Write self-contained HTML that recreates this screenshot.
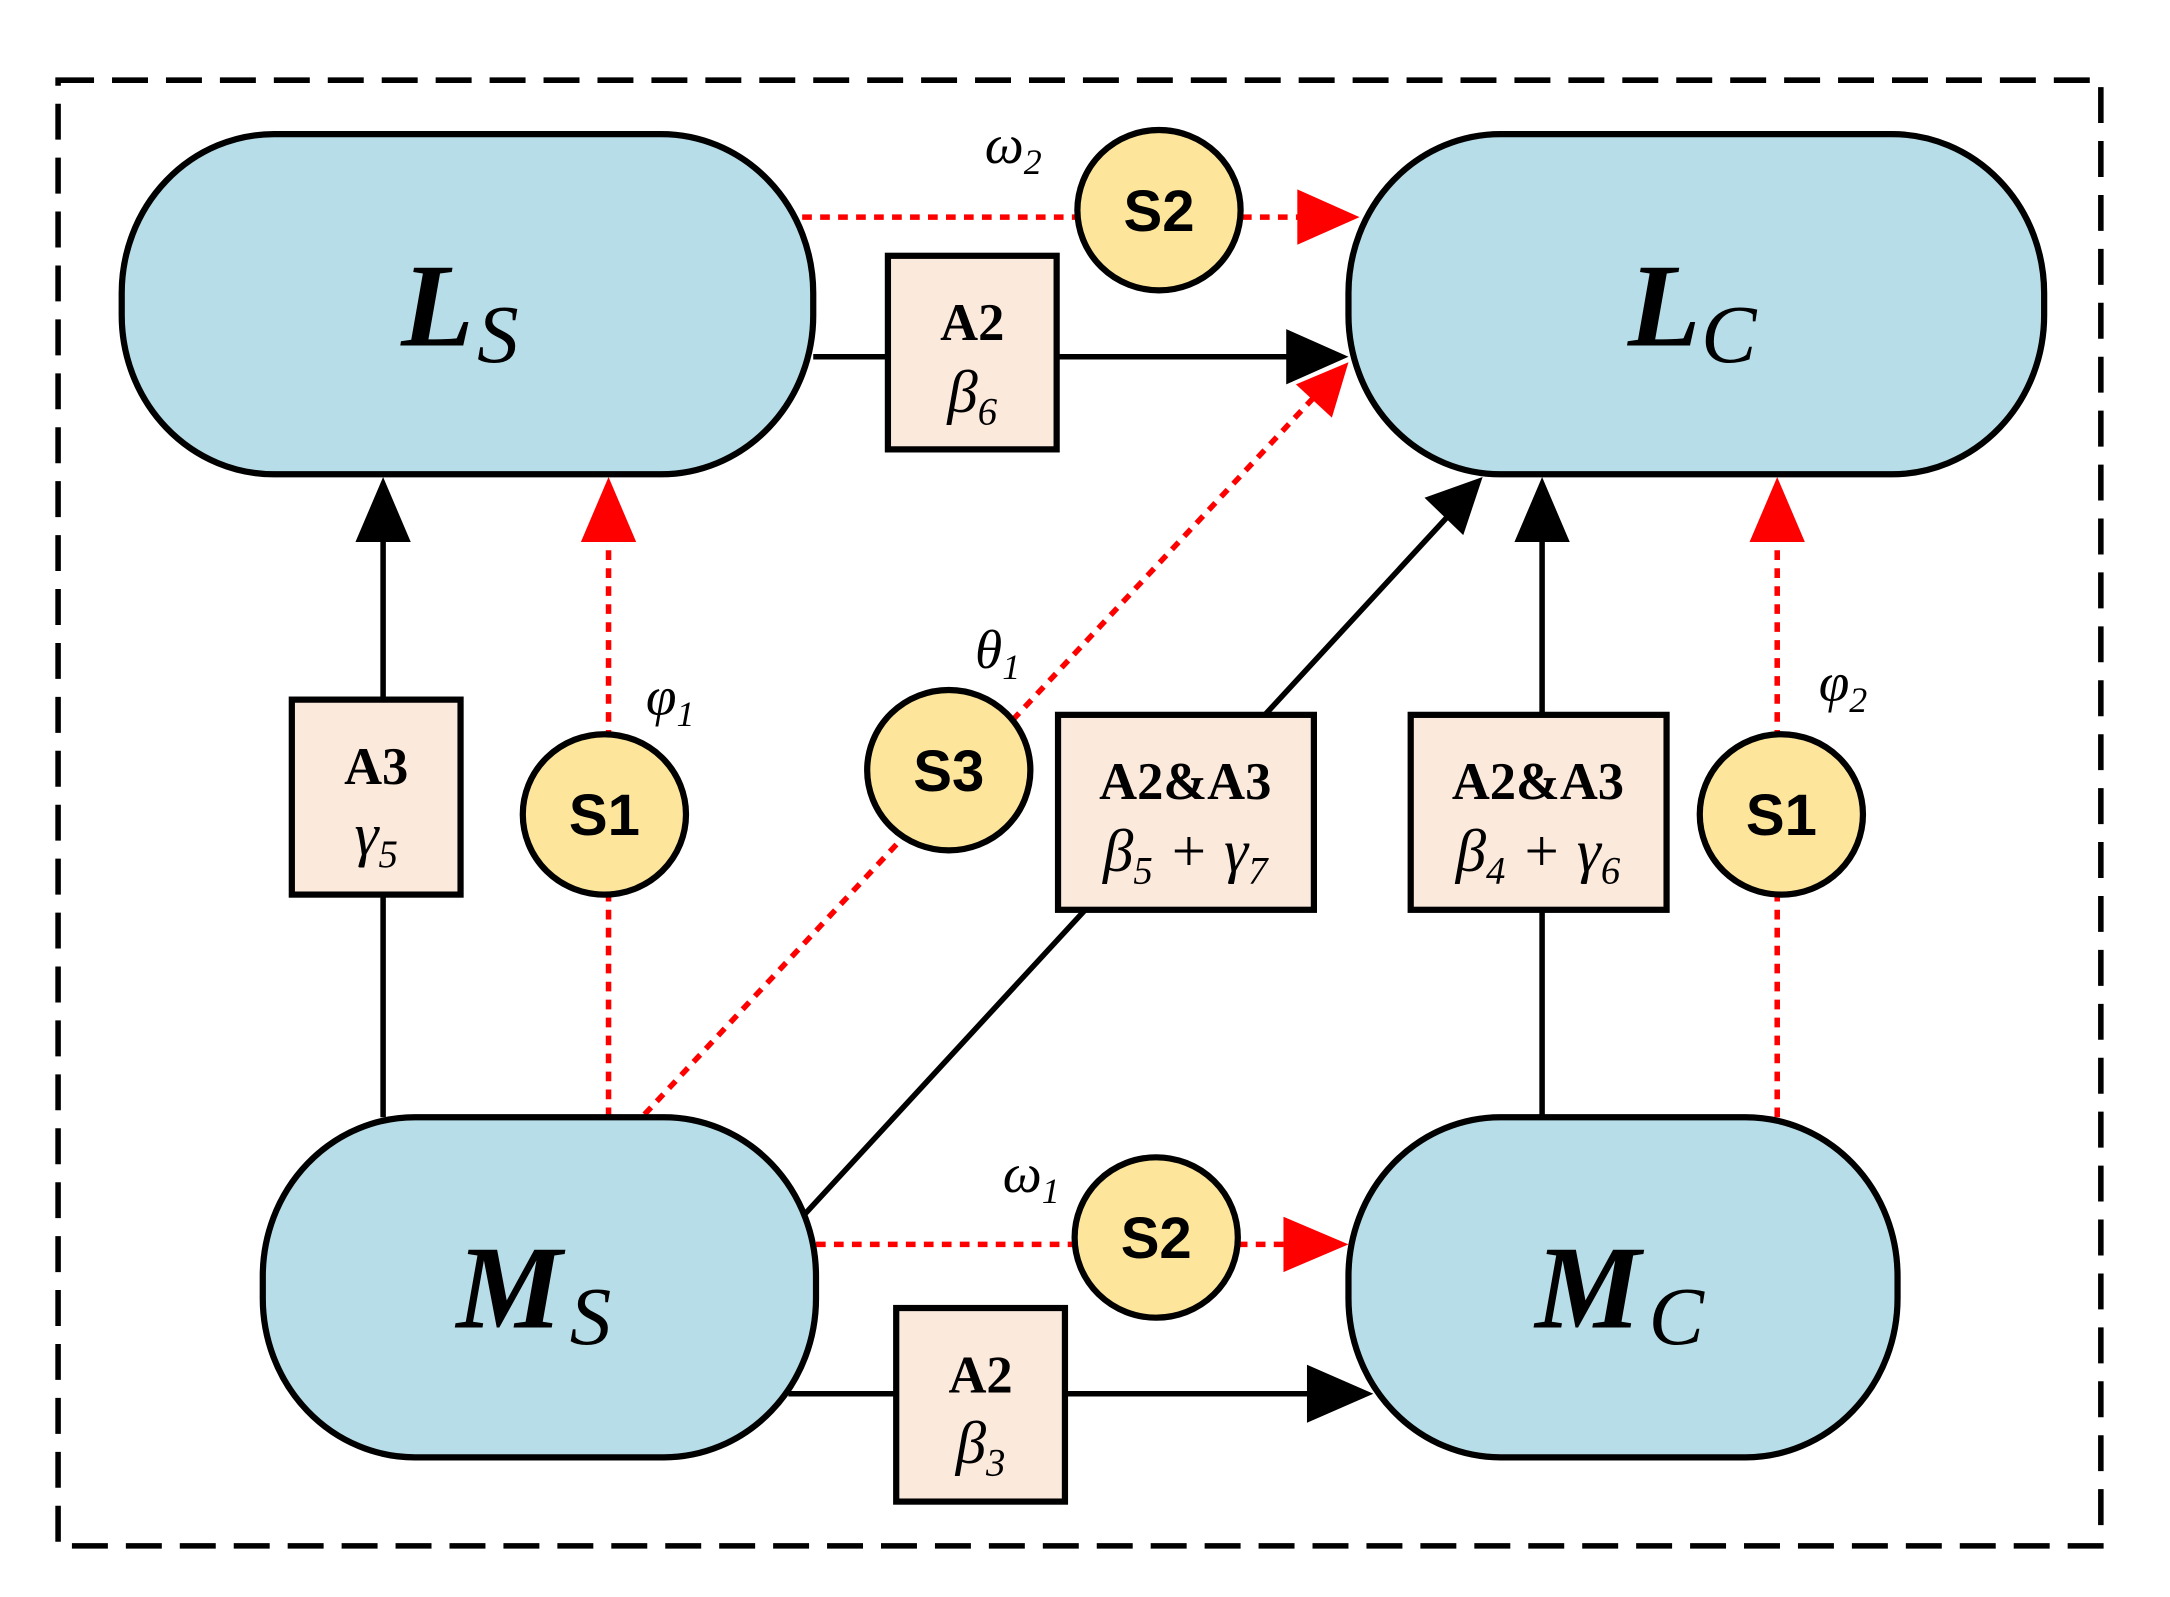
<!DOCTYPE html>
<html><head><meta charset="utf-8"><style>html,body{margin:0;padding:0;background:#fff}svg{display:block}</style></head>
<body>
<svg width="2170" height="1597" viewBox="0 0 1569 1155" preserveAspectRatio="none" xmlns="http://www.w3.org/2000/svg">
<style>
.n{fill:#b7dde8;stroke:#000;stroke-width:4.5}
.b{fill:#fbe9dc;stroke:#000;stroke-width:4.5}
.c{fill:#fde59b;stroke:#000;stroke-width:4.5}
.k{stroke:#000;stroke-width:4;fill:none}
.r{stroke:#f00;stroke-width:4;fill:none;stroke-dasharray:7 6}
.big{font-family:"Liberation Serif",serif;font-style:italic;font-weight:bold;font-size:86px}
.sub{font-family:"Liberation Serif",serif;font-style:italic;font-size:60px}
.bt{font-family:"Liberation Serif",serif;font-weight:bold;font-size:38px;text-anchor:middle}
.gk{font-family:"Liberation Serif",serif;font-style:italic;font-size:44px;text-anchor:middle}
.st{font-family:"Liberation Sans",sans-serif;font-weight:bold;font-size:42px;text-anchor:middle}
.lb{font-family:"Liberation Serif",serif;font-style:italic}
</style>
<rect x="42" y="58" width="1477" height="1060" fill="none" stroke="#000" stroke-width="4" stroke-dasharray="26 13"/>

<line class="k" x1="588" y1="258" x2="935" y2="258"/>
<path d="M930,238 L975,258 L930,278 Z" fill="#000"/>
<line class="r" x1="580" y1="157" x2="780" y2="157"/>
<line class="r" x1="898" y1="157" x2="945" y2="157"/>
<path d="M938,137 L983,157 L938,177 Z" fill="#f00"/>

<line class="k" x1="277" y1="808" x2="277" y2="385"/>
<path d="M257,392 L277,345 L297,392 Z" fill="#000"/>
<line class="r" x1="440" y1="808" x2="440" y2="385"/>
<path d="M420,392 L440,345 L460,392 Z" fill="#f00"/>

<line class="r" x1="466" y1="806" x2="955" y2="282"/>
<path d="M937,278 L975,262 L963,302 Z" fill="#f00"/>

<line class="k" x1="582" y1="878" x2="1050" y2="370"/>
<path d="M1030,360 L1072,345 L1058,387 Z" fill="#000"/>

<line class="k" x1="1115" y1="808" x2="1115" y2="385"/>
<path d="M1095,392 L1115,345 L1135,392 Z" fill="#000"/>
<line class="r" x1="1285" y1="808" x2="1285" y2="385"/>
<path d="M1265,392 L1285,345 L1305,392 Z" fill="#f00"/>

<line class="r" x1="590" y1="900" x2="780" y2="900"/>
<line class="r" x1="895" y1="900" x2="935" y2="900"/>
<path d="M928,880 L975,900 L928,920 Z" fill="#f00"/>

<line class="k" x1="570" y1="1008" x2="950" y2="1008"/>
<path d="M945,987 L993,1008 L945,1029 Z" fill="#000"/>

<rect class="n" x="88" y="97" width="500" height="246" rx="110" ry="115"/>
<rect class="n" x="975" y="97" width="503" height="246" rx="110" ry="115"/>
<rect class="n" x="190" y="808" width="400" height="246" rx="110" ry="115"/>
<rect class="n" x="975" y="808" width="397" height="246" rx="110" ry="115"/>
<text x="290" y="250" class="big">L</text><text x="345" y="262" class="sub">S</text>
<text x="1177" y="250" class="big">L</text><text x="1230" y="262" class="sub">C</text>
<text x="330" y="960" class="big">M</text><text x="412" y="972" class="sub">S</text>
<text x="1110" y="960" class="big">M</text><text x="1192" y="972" class="sub">C</text>

<rect class="b" x="642" y="185" width="122" height="140"/>
<text x="703" y="246" class="bt">A2</text><text x="703" y="298" class="gk">β<tspan style="font-size:28px" dy="9">6</tspan></text>
<rect class="b" x="211" y="506" width="122" height="141"/>
<text x="272" y="567" class="bt">A3</text><text x="272" y="618" class="gk">γ<tspan style="font-size:28px" dy="9">5</tspan></text>
<rect class="b" x="765" y="517" width="185" height="141"/>
<text x="857" y="578" class="bt">A2&amp;A3</text>
<text x="857" y="630" class="gk">β<tspan style="font-size:28px" dy="9">5</tspan><tspan dy="-9"> + γ</tspan><tspan style="font-size:28px" dy="9">7</tspan></text>
<rect class="b" x="1020" y="517" width="185" height="141"/>
<text x="1112" y="578" class="bt">A2&amp;A3</text>
<text x="1112" y="630" class="gk">β<tspan style="font-size:28px" dy="9">4</tspan><tspan dy="-9"> + γ</tspan><tspan style="font-size:28px" dy="9">6</tspan></text>
<rect class="b" x="648" y="946" width="122" height="140"/>
<text x="709" y="1007" class="bt">A2</text><text x="709" y="1058" class="gk">β<tspan style="font-size:28px" dy="9">3</tspan></text>

<ellipse class="c" cx="838" cy="152" rx="59" ry="58"/><text x="838" y="167" class="st">S2</text>
<ellipse class="c" cx="437" cy="589" rx="59" ry="58"/><text x="437" y="604" class="st">S1</text>
<ellipse class="c" cx="686" cy="557" rx="59" ry="58"/><text x="686" y="572" class="st">S3</text>
<ellipse class="c" cx="1288" cy="589" rx="59" ry="58"/><text x="1288" y="604" class="st">S1</text>
<ellipse class="c" cx="836" cy="895" rx="59" ry="58"/><text x="836" y="910" class="st">S2</text>

<text x="712" y="118" class="lb" style="font-size:40px">ω<tspan style="font-size:26px" dy="8">2</tspan></text>
<text x="467" y="517" class="lb" style="font-size:40px">φ<tspan style="font-size:26px" dy="8">1</tspan></text>
<text x="705" y="483" class="lb" style="font-size:40px">θ<tspan style="font-size:26px" dy="8">1</tspan></text>
<text x="1315" y="507" class="lb" style="font-size:40px">φ<tspan style="font-size:26px" dy="8">2</tspan></text>
<text x="725" y="862" class="lb" style="font-size:40px">ω<tspan style="font-size:26px" dy="8">1</tspan></text>
</svg>
</body></html>
